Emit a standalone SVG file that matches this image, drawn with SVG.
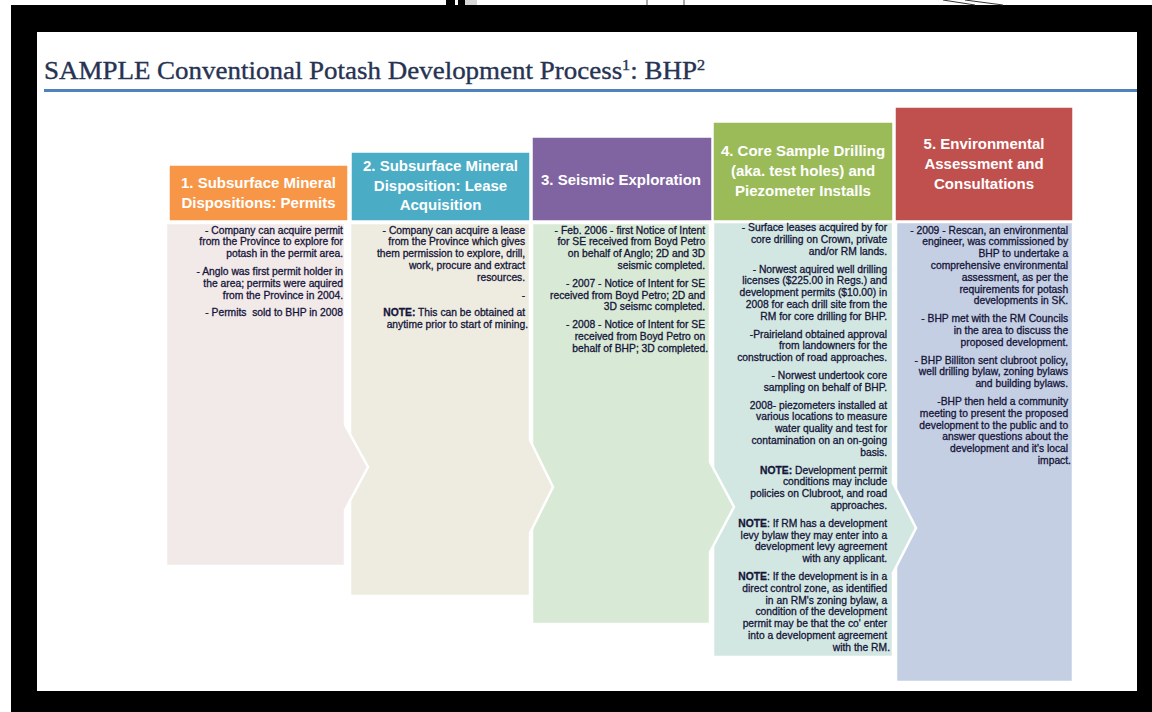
<svg xmlns="http://www.w3.org/2000/svg" width="1152" height="712" viewBox="0 0 1152 712">
<style>
.hd{font-family:"Liberation Sans",Arial,sans-serif;font-weight:bold;font-size:15px;fill:#ffffff;text-anchor:middle}
.bt{font-family:"Liberation Sans",Arial,sans-serif;font-size:10.3px;fill:#15153a;stroke:#15153a;stroke-width:0.3;text-anchor:end}
.b{font-weight:bold}
.body{stroke:#ffffff;stroke-width:2.5;stroke-linejoin:miter}
.hbox{stroke:#ffffff;stroke-width:1.5}
</style>
<!-- photo surroundings -->
<rect x="0" y="0" width="1152" height="712" fill="#ffffff"/>
<rect x="11" y="5" width="1141" height="707" fill="#000000"/>
<rect x="446" y="0" width="9" height="5" fill="#000000"/>
<rect x="458" y="0" width="7" height="5" fill="#000000"/>
<rect x="465" y="0" width="12" height="5" fill="#d8d8d8"/>
<line x1="647" y1="0" x2="647" y2="5" stroke="#555555" stroke-width="1"/>
<line x1="684" y1="0" x2="684" y2="5" stroke="#555555" stroke-width="1"/>
<line x1="943" y1="0" x2="975" y2="5" stroke="#333333" stroke-width="1"/>
<line x1="965" y1="0" x2="1003" y2="5" stroke="#333333" stroke-width="1"/>
<!-- slide -->
<rect x="37" y="32" width="1100" height="659" fill="#ffffff"/>
<text x="44" y="79" textLength="661" lengthAdjust="spacingAndGlyphs" font-family="'Liberation Serif','Times New Roman',serif" font-size="25" fill="#263352" stroke="#263352" stroke-width="0.35">SAMPLE Conventional Potash Development Process<tspan font-size="15" dy="-9">1</tspan><tspan dy="9">: BHP</tspan><tspan font-size="15" dy="-9">2</tspan></text>
<line x1="44" y1="90.5" x2="1137" y2="90.5" stroke="#4F81BD" stroke-width="3"/>

<g id="connectors"></g>

<g id="node5">
<rect class="body" x="896" y="222" width="177" height="460" fill="#C5CFE3"/>
<rect class="hbox" x="895" y="107" width="178" height="114" fill="#C0504D"/>
<text class="hd"><tspan x="984" y="149">5. Environmental</tspan><tspan x="984" y="169">Assessment and</tspan><tspan x="984" y="189">Consultations</tspan></text>
<text class="bt">
<tspan x="1071" y="233.5">- 2009 - Rescan, an environmental</tspan>
<tspan x="1071" y="245.3">engineer, was commissioned by</tspan>
<tspan x="1071" y="257.1">BHP to undertake a</tspan>
<tspan x="1071" y="268.9">comprehensive environmental</tspan>
<tspan x="1071" y="280.7">assessment, as per the</tspan>
<tspan x="1071" y="292.5">requirements for potash</tspan>
<tspan x="1071" y="304.3">developments in SK.</tspan>
<tspan x="1071" y="322.1">- BHP met with the RM Councils</tspan>
<tspan x="1071" y="333.9">in the area to discuss the</tspan>
<tspan x="1071" y="345.7">proposed development.</tspan>
<tspan x="1071" y="363.5">- BHP Billiton sent clubroot policy,</tspan>
<tspan x="1071" y="375.3">well drilling bylaw, zoning bylaws</tspan>
<tspan x="1071" y="387.1">and building bylaws.</tspan>
<tspan x="1071" y="404.9">-BHP then held a community</tspan>
<tspan x="1071" y="416.7">meeting to present the proposed</tspan>
<tspan x="1071" y="428.5">development to the public and to</tspan>
<tspan x="1071" y="440.3">answer questions about the</tspan>
<tspan x="1071" y="452.1">development and it's local</tspan>
<tspan x="1071" y="463.9">impact.</tspan>
</text>
</g>

<g id="node4">
<polygon class="body" points="713,222 893,222 893,483 916,528 893,573 893,657 713,657" fill="#D3E7E2"/>
<rect class="hbox" x="713" y="122" width="180" height="99" fill="#9BBB59"/>
<text class="hd"><tspan x="803" y="156">4. Core Sample Drilling</tspan><tspan x="803" y="176">(aka. test holes) and</tspan><tspan x="803" y="196">Piezometer Installs</tspan></text>
<text class="bt">
<tspan x="890" y="231.2">- Surface leases acquired by for</tspan>
<tspan x="890" y="243">core drilling on Crown, private</tspan>
<tspan x="890" y="254.8">and/or RM lands.</tspan>
<tspan x="890" y="272.6">- Norwest aquired well drilling</tspan>
<tspan x="890" y="284.4">licenses ($225.00 in Regs.) and</tspan>
<tspan x="890" y="296.2">development permits ($10.00) in</tspan>
<tspan x="890" y="308">2008 for each drill site from the</tspan>
<tspan x="890" y="319.8">RM for core drilling for BHP.</tspan>
<tspan x="890" y="337.6">-Prairieland obtained approval</tspan>
<tspan x="890" y="349.4">from landowners for the</tspan>
<tspan x="890" y="361.2">construction of road approaches.</tspan>
<tspan x="890" y="379">- Norwest undertook core</tspan>
<tspan x="890" y="390.8">sampling on behalf of BHP.</tspan>
<tspan x="890" y="408.6">2008- piezometers installed at</tspan>
<tspan x="890" y="420.4">various locations to measure</tspan>
<tspan x="890" y="432.2">water quality and test for</tspan>
<tspan x="890" y="444">contamination on an on-going</tspan>
<tspan x="890" y="455.8">basis.</tspan>
<tspan x="890" y="473.6"><tspan class="b">NOTE:</tspan> Development permit</tspan>
<tspan x="890" y="485.4">conditions may include</tspan>
<tspan x="890" y="497.2">policies on Clubroot, and road</tspan>
<tspan x="890" y="509">approaches.</tspan>
<tspan x="890" y="526.8"><tspan class="b">NOTE</tspan>: If RM has a development</tspan>
<tspan x="890" y="538.6">levy bylaw they may enter into a</tspan>
<tspan x="890" y="550.4">development levy agreement</tspan>
<tspan x="890" y="562.2">with any applicant.</tspan>
<tspan x="890" y="580"><tspan class="b">NOTE</tspan>: If the development is in a</tspan>
<tspan x="890" y="591.8">direct control zone, as identified</tspan>
<tspan x="890" y="603.6">in an RM's zoning bylaw, a</tspan>
<tspan x="890" y="615.4">condition of the development</tspan>
<tspan x="890" y="627.2">permit may be that the co' enter</tspan>
<tspan x="890" y="639">into a development agreement</tspan>
<tspan x="890" y="650.8">with the RM.</tspan>
</text>
</g>

<g id="node3">
<polygon class="body" points="532,223 710,223 710,462 734,507 710,552 710,624 532,624" fill="#D8E9D5"/>
<rect class="hbox" x="532" y="137" width="180" height="84" fill="#8064A2"/>
<text class="hd" x="621" y="184.5">3. Seismic Exploration</text>
<text class="bt">
<tspan x="708" y="233.5">- Feb. 2006 - first Notice of Intent</tspan>
<tspan x="708" y="245.3">for SE received from Boyd Petro</tspan>
<tspan x="708" y="257.1">on behalf of Anglo; 2D and 3D</tspan>
<tspan x="708" y="268.9">seismic completed.</tspan>
<tspan x="708" y="286.7">- 2007 - Notice of Intent for SE</tspan>
<tspan x="708" y="298.5">received from Boyd Petro; 2D and</tspan>
<tspan x="708" y="310.3">3D seismc completed.</tspan>
<tspan x="708" y="328.1">- 2008 - Notice of Intent for SE</tspan>
<tspan x="708" y="339.9">received from Boyd Petro on</tspan>
<tspan x="708" y="351.7">behalf of BHP; 3D completed.</tspan>
</text>
</g>

<g id="node2">
<polygon class="body" points="350,223 530,223 530,440 553,487 530,533 530,596 350,596" fill="#EEECE0"/>
<rect class="hbox" x="351" y="152" width="179" height="69" fill="#4BACC6"/>
<text class="hd"><tspan x="440.5" y="171">2. Subsurface Mineral</tspan><tspan x="440.5" y="190.5">Disposition: Lease</tspan><tspan x="440.5" y="210">Acquisition</tspan></text>
<text class="bt">
<tspan x="528" y="233.5">- Company can acquire a lease</tspan>
<tspan x="528" y="245.3">from the Province which gives</tspan>
<tspan x="528" y="257.1">them permission to explore, drill,</tspan>
<tspan x="528" y="268.9">work, procure and extract</tspan>
<tspan x="528" y="280.7">resources.</tspan>
<tspan x="528" y="298.5">-</tspan>
<tspan x="528" y="316.3"><tspan class="b">NOTE:</tspan> This can be obtained at</tspan>
<tspan x="528" y="328.1">anytime prior to start of mining.</tspan>
</text>
</g>

<g id="node1">
<polygon class="body" points="166,223 345,223 345,425 368,467 345,510 345,566 166,566" fill="#F2E9E9"/>
<rect class="hbox" x="169" y="165" width="179" height="56" fill="#F79646"/>
<text class="hd"><tspan x="258.5" y="188">1. Subsurface Mineral</tspan><tspan x="258.5" y="208">Dispositions: Permits</tspan></text>
<text class="bt" xml:space="preserve"><tspan x="343" y="233.5">- Company can acquire permit</tspan><tspan x="343" y="245.3">from the Province to explore for</tspan><tspan x="343" y="257.1">potash in the permit area.</tspan><tspan x="343" y="274.9">- Anglo was first permit holder in</tspan><tspan x="343" y="286.7">the area; permits were aquired</tspan><tspan x="343" y="298.5">from the Province in 2004.</tspan><tspan x="343" y="316.3">- Permits  sold to BHP in 2008</tspan></text>
</g>
</svg>
